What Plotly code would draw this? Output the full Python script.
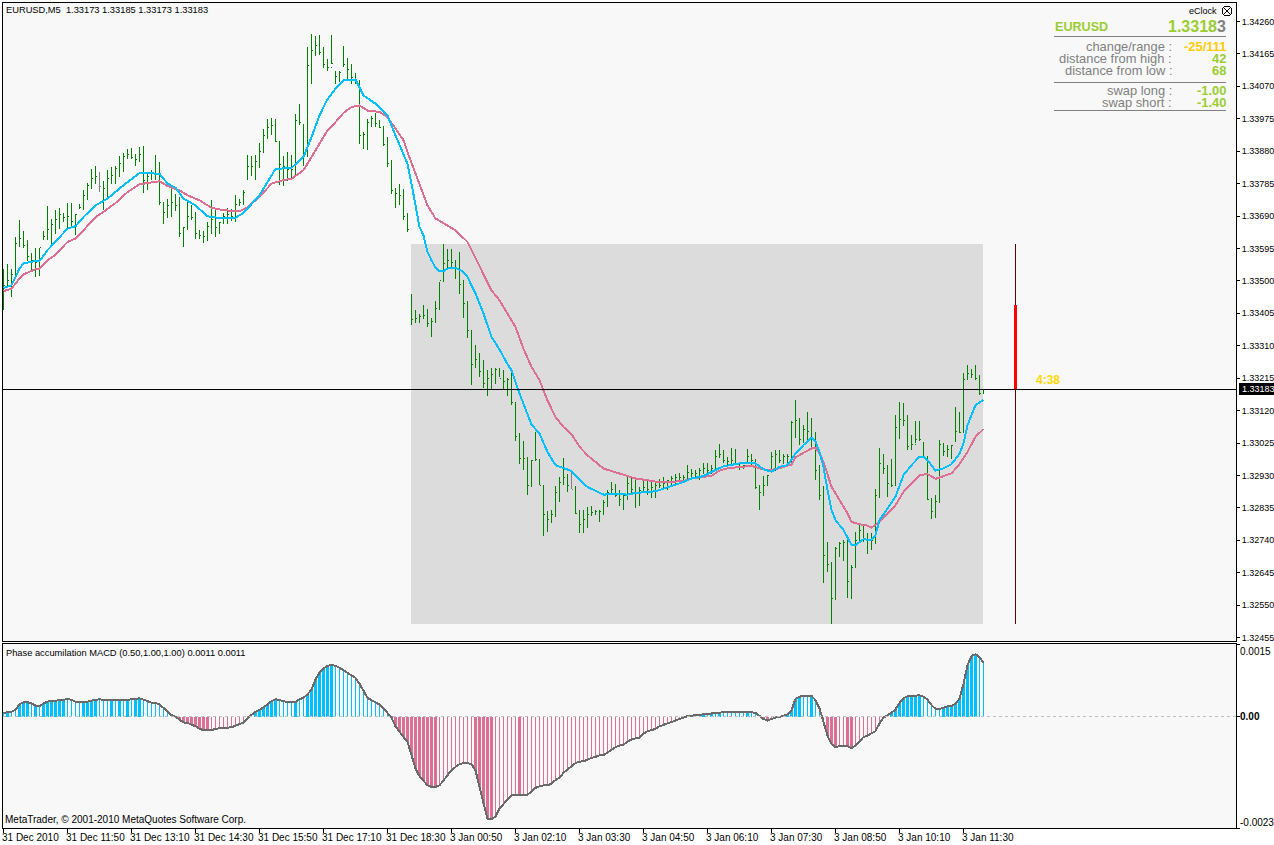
import plotly.graph_objects as go

W, H = 1274, 845
BASE = 1.32

# price values, in 0.00001 above BASE
highs = [1536,1548,1534,1629,1677,1645,1619,1583,1597,1597,1646,1718,1680,1707,1714,1700,1729,1729,1697,1724,
1767,1788,1827,1836,1818,1792,1824,1834,1836,1865,1876,1887,1889,1871,1892,1894,1814,1824,1870,1848,
1731,1739,1770,1755,1746,1658,1731,1723,1702,1648,1646,1673,1738,1707,1673,1699,1714,1712,1751,1741,
1765,1868,1866,1868,1905,1946,1975,1978,1973,1910,1865,1877,1870,1988,2019,1960,2185,2224,2217,2219,
2185,2151,2219,2114,2115,2187,2153,2136,2110,2087,1936,1973,1983,1992,1970,1953,1921,1853,1773,1785,
1770,1699,1463,1414,1402,1428,1419,1392,1441,1497,1607,1594,1592,1562,1586,1502,1440,1355,1311,1289,
1269,1238,1245,1245,1246,1238,1214,1236,1145,1053,1031,984,975,1056,977,903,825,828,898,926,
982,934,940,898,828,830,838,840,830,828,857,887,911,906,887,877,931,928,921,896,
914,921,911,914,921,924,916,928,933,937,931,960,950,947,953,965,965,960,1004,1022,
1004,985,1009,1007,965,960,1007,992,978,902,928,931,999,1006,1004,994,992,1090,1151,1097,
1077,1116,1097,1056,960,899,736,677,721,736,741,744,667,765,785,789,760,760,889,1009,
992,960,978,1107,1144,1141,1107,1048,1090,1090,1026,985,863,872,1033,1024,1019,1019,1131,1116,
1229,1253,1243,1253,1224,1183]
lows = [1416,1482,1453,1511,1599,1597,1558,1531,1510,1513,1619,1619,1607,1638,1653,1673,1648,1658,1633,1712,
1709,1736,1770,1785,1760,1707,1746,1785,1785,1804,1819,1858,1858,1836,1848,1757,1765,1795,1796,1723,
1666,1685,1687,1705,1629,1599,1650,1677,1624,1622,1611,1617,1638,1629,1638,1666,1668,1674,1673,1718,
1721,1796,1807,1796,1832,1876,1917,1926,1907,1780,1778,1793,1795,1809,1956,1836,1863,2078,2158,2161,
2123,2115,2136,2078,2082,2126,2092,2076,2078,1902,1887,1884,1951,1951,1949,1894,1834,1755,1714,1723,
1677,1643,1370,1377,1377,1389,1365,1336,1377,1414,1497,1539,1539,1506,1461,1392,1333,1194,1246,1219,
1187,1163,1180,1199,1219,1180,1163,1136,1031,963,947,872,896,975,901,753,765,791,809,853,
901,882,889,816,760,762,776,811,814,794,814,838,872,867,840,830,857,877,836,840,
882,872,864,865,892,892,887,901,906,914,911,921,921,921,918,934,934,934,948,980,
965,951,960,962,946,948,965,957,889,829,870,899,944,944,965,963,960,965,1041,1019,
1024,1033,1009,916,858,616,648,495,565,692,680,570,568,658,739,736,700,711,729,863,
934,868,895,902,1036,1074,1006,1006,1024,1032,985,858,802,804,850,987,983,977,1029,1053,
1053,1211,1214,1209,1167,1168]
closes = [1487,1500,1520,1610,1625,1605,1570,1560,1555,1597,1630,1650,1665,1680,1695,1685,1690,1675,1695,1715,
1750,1780,1800,1805,1775,1770,1800,1810,1830,1845,1865,1870,1862,1855,1870,1795,1805,1815,1815,1730,
1700,1720,1730,1720,1640,1655,1690,1685,1640,1632,1630,1660,1680,1655,1670,1690,1695,1690,1725,1730,
1760,1835,1835,1850,1880,1925,1950,1955,1908,1840,1835,1825,1825,1970,1965,1870,2130,2175,2190,2170,
2135,2125,2136,2100,2110,2135,2120,2095,2083,1925,1930,1965,1975,1960,1950,1900,1845,1765,1755,1750,
1690,1650,1386,1390,1395,1400,1375,1380,1420,1500,1550,1560,1555,1535,1490,1435,1355,1255,1270,1235,
1200,1215,1225,1240,1215,1205,1210,1145,1045,980,980,900,975,976,902,815,800,815,880,910,
925,900,890,818,785,800,815,820,825,825,850,880,890,870,860,870,905,890,880,885,
895,890,895,900,900,905,915,920,925,925,925,940,935,935,945,950,945,950,985,990,
975,970,975,963,955,960,985,975,895,880,900,930,985,990,975,985,985,1085,1090,1035,
1065,1060,1040,945,870,695,670,570,715,730,735,620,660,740,770,745,740,740,870,965,
950,905,900,1070,1095,1090,1015,1020,1035,1035,985,860,825,855,1020,1000,1005,1019,1060,1055,
1212,1230,1225,1215,1170,1183]
opens = [1490,1487,1500,1520,1610,1625,1605,1570,1560,1555,1625,1630,1650,1665,1680,1695,1685,1690,1675,1715,
1715,1750,1780,1800,1805,1775,1770,1800,1810,1830,1845,1865,1870,1862,1855,1870,1795,1805,1815,1815,
1730,1700,1720,1730,1720,1640,1655,1690,1685,1640,1632,1630,1660,1680,1655,1670,1690,1695,1690,1725,
1730,1800,1835,1835,1850,1880,1925,1950,1955,1908,1840,1835,1825,1825,1970,1940,1870,2130,2175,2190,
2170,2135,2125,2110,2100,2160,2135,2120,2095,2083,1925,1930,1965,1975,1960,1950,1900,1845,1765,1755,
1750,1690,1431,1386,1390,1395,1400,1375,1380,1420,1500,1550,1560,1555,1535,1490,1435,1355,1255,1270,
1235,1200,1215,1225,1240,1215,1205,1210,1145,1045,980,980,900,975,976,902,815,800,815,880,
910,925,900,890,818,785,800,815,820,825,825,850,880,890,870,860,870,905,890,880,
885,895,890,895,900,900,905,915,920,925,925,925,940,935,935,945,950,945,950,985,
990,975,970,975,963,955,965,985,975,895,880,900,944,985,990,975,985,985,1085,1090,
1035,1065,1060,1040,945,870,695,670,570,715,730,735,620,660,740,770,745,740,740,870,
965,950,905,900,1070,1095,1090,1015,1020,1035,1026,985,860,825,855,1020,1000,1005,1035,1060,
1055,1212,1230,1225,1215,1170]
doji_bars = [24, 142]

# moving averages, read at these bars
blue_bars = [0,2,4,5,8,9,11,16,18,20,23,26,30,34,39,41,43,45,48,51,54,58,60,64,68,72,75,77,79,81,83,85,88,90,93,96,98,101,102,103,104,
105,106,107,108,109,110,111,113,115,116,118,120,122,124,126,127,129,131,132,134,136,138,140,142,144,146,148,150,153,156,158,162,164,167,170,172,174,
175,178,180,184,188,190,192,194,196,198,200,202,203,204,205,206,207,208,210,212,213,215,217,218,219,221,223,225,227,229,230,231,233,235,237,239,240,241,243,245]
blue_vals = [1479,1487,1536,1551,1558,1558,1590,1653,1660,1687,1721,1741,1780,1816,1814,1785,1773,1741,1721,1689,1684,1685,1699,1751,1828,1831,1863,1921,1985,2032,2063,2087,2090,2043,2019,1985,1926,1843,1785,1716,1658,
1633,1585,1560,1539,1528,1529,1536,1539,1526,1511,1463,1404,1336,1299,1256,1238,1170,1111,1079,1053,999,960,951,943,918,896,885,874,875,874,879,882,887,898,911,921,926,
928,946,957,965,965,948,941,955,960,994,1019,1040,1029,999,955,887,829,799,770,726,726,743,741,755,799,833,868,931,960,985,985,975,944,951,963,994,1024,1077,1136,1151]
pink_bars = [0,2,4,5,8,9,11,13,16,18,20,23,25,28,31,34,38,39,41,44,46,49,52,55,59,61,64,67,70,72,75,77,79,81,83,85,87,89,91,94,96,98,100,101,103,104,106,108,111,113,
116,118,120,122,124,126,128,130,132,134,136,138,140,142,144,146,148,150,152,155,158,161,164,167,170,172,174,
175,177,179,181,184,187,189,191,193,195,197,198,200,202,203,204,205,206,207,209,211,212,214,216,217,219,221,223,225,227,229,231,233,235,237,239,241,243,245]
pink_vals = [1470,1477,1507,1519,1534,1536,1560,1577,1614,1624,1648,1687,1702,1728,1760,1783,1790,1792,1778,1765,1751,1736,1714,1707,1704,1716,1746,1785,1795,1799,1824,1863,1902,1941,1965,1992,2009,2014,1999,1995,1980,1946,1912,1877,1814,1785,1721,1683,1663,1648,
1614,1565,1521,1472,1443,1404,1365,1301,1248,1209,1150,1101,1072,1051,1014,989,970,950,943,931,921,916,910,911,914,921,923,
926,929,944,951,955,958,951,946,948,955,962,983,997,1009,1011,994,970,936,897,858,819,794,787,783,777,794,819,843,882,907,931,934,920,928,936,963,999,1043,1066]

# indicator values, in 0.00001
macd_vals = [8,9,10,14,25,30,30,27,23,21,27,31,32,34,34,36,36,35,31,30,
30,31,33,34,36,34,34,34,34,34,34,34,36,36,38,35,32,29,28,25,
18,10,3,0,-6,-12,-13,-16,-20,-25,-28,-28,-28,-25,-24,-24,-23,-22,-19,-16,
-12,-3,3,10,14,19,25,32,36,34,32,30,30,30,36,39,46,56,77,91,
99,105,107,105,101,96,91,86,80,68,53,39,34,30,25,17,8,-2,-20,-32,
-42,-52,-80,-107,-123,-133,-142,-145,-145,-142,-131,-121,-111,-104,-98,-96,-96,-98,-111,-145,
-180,-211,-212,-206,-190,-180,-171,-162,-162,-162,-162,-161,-155,-147,-144,-142,-142,-138,-131,-126,
-116,-109,-103,-96,-93,-92,-89,-85,-83,-80,-80,-74,-68,-63,-60,-58,-52,-47,-45,-44,
-35,-30,-28,-25,-20,-17,-15,-12,-9,-6,-3,1,2,3,3,5,6,7,7,8,
10,10,10,10,9,9,9,9,8,2,-5,-8,-5,-2,-1,2,5,13,37,41,
43,43,43,34,17,-11,-39,-57,-63,-61,-60,-61,-65,-60,-50,-42,-39,-35,-30,-14,
-2,3,8,15,28,38,42,43,43,44,41,35,24,16,16,18,21,21,27,37,
68,106,125,129,123,111]
thick_bars = [1,4,5,6,8,10,11,12,13,14,15,20,21,22,23,27,29,31,33,34,44,45,46,47,48,49,50,51,
63,64,65,66,67,68,73,76,77,78,79,80,81,82,97,98,99,100,101,102,103,104,105,106,107,108,118,119,120,121,122,129,
175,177,179,186,190,191,196,197,198,199,202,206,207,208,211,212,222,223,224,225,226,227,228,229,
235,236,237,238,239,240,241,242,243]

price_ticks = [2260,2165,2070,1975,1880,1785,1690,1595,1500,1405,1310,1215,1120,1025,930,835,740,645,550,455]
price_tick_labels = ["1.34260","1.34165","1.34070","1.33975","1.33880","1.33785","1.33690","1.33595","1.33500","1.33405",
"1.33310","1.33215","1.33120","1.33025","1.32930","1.32835","1.32740","1.32645","1.32550","1.32455"]
time_ticks = [0,16,32,48,64,80,96,112,128,144,160,176,192,208,224,240]
time_labels = ["31 Dec 2010","31 Dec 11:50","31 Dec 13:10","31 Dec 14:30","31 Dec 15:50","31 Dec 17:10","31 Dec 18:30",
"3 Jan 00:50","3 Jan 02:10","3 Jan 03:30","3 Jan 04:50","3 Jan 06:10","3 Jan 07:30","3 Jan 08:50","3 Jan 10:10","3 Jan 11:30"]

bid = 1183
day_high = 1607
day_low = 495
day_open_mark = 1428
clock_bar = 253
BLUE, PINK, BAR = "#00BFFF", "#DB7093", "#008000"
TXT = "Liberation Sans"
X_RANGE = [-0.125, 308.125]


def pr(v):
    return [BASE + a / 1e5 for a in v]


def one(v):
    return BASE + v / 1e5


bars = list(range(len(highs)))
normal = [i for i in bars if i not in doji_bars]
fig = go.Figure()


def ohlc(idx, color):
    # open tick left of the stem, close tick right of it
    xs, ys = [], []
    for i in idx:
        xs += [i, i, None, i - 0.25, i, None, i, i + 0.25, None]
        ys += [one(lows[i]), one(highs[i]), None, one(opens[i]), one(opens[i]), None, one(closes[i]), one(closes[i]), None]
    fig.add_trace(go.Scatter(x=xs, y=ys, mode="lines", line=dict(color=color, width=1, simplify=False),
                             showlegend=False, hoverinfo="skip"))


ohlc(normal, BAR)
ohlc(doji_bars, "#808080")
fig.add_trace(go.Scatter(x=pink_bars, y=pr(pink_vals), mode="lines", line=dict(color=PINK, width=2), showlegend=False))
fig.add_trace(go.Scatter(x=blue_bars, y=pr(blue_vals), mode="lines", line=dict(color=BLUE, width=2), showlegend=False))

macd = [v / 1e5 for v in macd_vals]
fig.add_trace(go.Bar(x=bars, y=macd, xaxis="x2", yaxis="y2", showlegend=False,
                     width=[0.75 if i in thick_bars else 0.25 for i in bars],
                     marker=dict(color=[BLUE if v >= 0 else PINK for v in macd], line=dict(width=0))))
fig.add_trace(go.Scatter(x=bars, y=macd, xaxis="x2", yaxis="y2", mode="lines", showlegend=False,
                         line=dict(color="#696969", width=2)))

shapes = [
    dict(type="rect", xref="x", yref="y", x0=102 - 0.125, x1=245 - 0.125, y0=one(day_low), y1=one(day_high),
         fillcolor="#DCDCDC", line=dict(width=0), layer="below"),
    dict(type="line", xref="paper", yref="y", x0=3 / W, x1=1236 / W, y0=one(bid), y1=one(bid),
         line=dict(color="#000000", width=1), layer="above"),
    dict(type="line", xref="x", yref="y", x0=clock_bar, x1=clock_bar, y0=one(day_low), y1=one(day_high),
         line=dict(color="#600000", width=1), layer="above"),
    dict(type="line", xref="x", yref="y", x0=clock_bar, x1=clock_bar, y0=one(bid), y1=one(day_open_mark),
         line=dict(color="#FF0000", width=3), layer="above"),
    dict(type="line", xref="x2", yref="y2", x0=X_RANGE[0], x1=X_RANGE[1], y0=0, y1=0,
         line=dict(color="#C0C0C0", width=1, dash="3px,3px"), layer="above"),
    dict(type="rect", xref="paper", yref="paper", x0=1239 / W, x1=1 , y0=1 - 395 / H, y1=1 - 383 / H,
         fillcolor="#000000", line=dict(width=0), layer="above"),
]
for yy in (36, 82, 110):
    shapes.append(dict(type="line", xref="paper", yref="paper", x0=1054 / W, x1=1226 / W, y0=1 - yy / H, y1=1 - yy / H,
                       line=dict(color="#808080", width=1)))
# clock glyph
shapes.append(dict(type="circle", xref="paper", yref="paper", x0=1222 / W, x1=1232 / W, y0=1 - 16 / H, y1=1 - 6 / H,
                   line=dict(color="#000000", width=1)))
shapes.append(dict(type="line", xref="paper", yref="paper", x0=1224 / W, x1=1230 / W, y0=1 - 8 / H, y1=1 - 14 / H,
                   line=dict(color="#000000", width=1)))
shapes.append(dict(type="line", xref="paper", yref="paper", x0=1224 / W, x1=1230 / W, y0=1 - 14 / H, y1=1 - 8 / H,
                   line=dict(color="#000000", width=1)))

ann = []


def text(x, y, s, anchor="left", color="#000000", size=10, bold=False, **kw):
    ann.append(dict(x=x / W, y=1 - y / H, xref="paper", yref="paper", text=f"<b>{s}</b>" if bold else s,
                    xanchor=anchor, yanchor="middle", showarrow=False, borderpad=0, borderwidth=0,
                    font=dict(family=TXT, size=size, color=color), **kw))


text(6, 10, "EURUSD,M5&nbsp;&nbsp;1.33173 1.33185 1.33173 1.33183", size=9.3)
text(6, 653, "Phase accumilation MACD (0.50,1.00,1.00) 0.0011 0.0011", size=9.3)
text(5, 819, "MetaTrader, © 2001-2010 MetaQuotes Software Corp.")
text(1217, 11, "eClock", anchor="right", size=9)
text(1055, 27, "EURUSD", color="#9ACD32", size=12.6, bold=True)
text(1226, 27, '<span style="color:#9ACD32">1.3318</span><span style="color:#808080">3</span>', anchor="right", size=16, bold=True)
gray_rows = [(46.5, "change/range :", "-25/111", "#FFCC00"), (58.5, "distance from high :", "42", "#9ACD32"),
             (70.5, "distance from low :", "68", "#9ACD32"), (90.5, "swap long :", "-1.00", "#9ACD32"),
             (102.5, "swap short :", "-1.40", "#9ACD32")]
for yy, lab, val, col in gray_rows:
    text(1172, yy, lab, anchor="right", color="#808080", size=12.9)
    text(1226, yy, val, anchor="right", color=col, size=12.9, bold=True)
text(1036, 380, "4:38", color="#FFD700", size=12, bold=True)
text(1242, 388.5, "1.33183", color="#FFFFFF", size=9)
text(1240, 651, "0.0015", size=10)
text(1240, 716, "0.00", size=10, bold=True)
text(1240, 822, "-0.0023", size=10)
for b, lab in zip(time_ticks, time_labels):
    text(2 + 4 * b, 837.5, lab, size=10)

fig.update_layout(
    width=W, height=H, autosize=False, margin=dict(l=0, r=0, t=0, b=0, autoexpand=False), paper_bgcolor="#FFFFFF",
    plot_bgcolor="#F8F8F8", bargap=0, barmode="overlay", showlegend=False, shapes=shapes, annotations=ann,
    font=dict(family=TXT, size=10, color="#000000"),
    xaxis=dict(domain=[3 / W, 1236 / W], range=X_RANGE, showgrid=False,
               zeroline=False, showticklabels=False, ticks="", showline=True, mirror=True, linecolor="#000000",
               linewidth=1, anchor="y"),
    yaxis=dict(domain=[1 - 641 / H, 1 - 3 / H], range=[one(445), one(2314)], side="right", showgrid=False,
               zeroline=False, tickmode="array", tickvals=pr(price_ticks), ticktext=price_tick_labels, ticks="outside",
               ticklen=3, tickcolor="#000000", tickwidth=1, showline=True, mirror=True, linecolor="#000000",
               linewidth=1, anchor="x", tickfont=dict(family=TXT, size=9)),
    xaxis2=dict(domain=[3 / W, 1236 / W], range=X_RANGE, showgrid=False, zeroline=False, tickmode="array",
                tickvals=time_ticks, ticktext=[""] * len(time_ticks), ticks="outside", ticklen=4, tickcolor="#000000",
                showline=True, mirror=True, linecolor="#000000", linewidth=1, anchor="y2"),
    yaxis2=dict(domain=[1 - 828 / H, 1 - 644 / H], range=[-0.0023, 0.0015], side="right", showgrid=False,
                zeroline=False, tickmode="array", tickvals=[0.0015, 0, -0.0023], ticktext=["", "", ""], ticks="outside",
                ticklen=3, tickcolor="#000000", showline=True, mirror=True, linecolor="#000000", linewidth=1,
                anchor="x2"),
)

crisp = """
document.body.style.margin='0';
document.body.style.overflow='hidden';
document.querySelectorAll('.scatterlayer .js-line, .barlayer path, .shapelayer path').forEach(function(p){
  p.style.shapeRendering='crispEdges';
});
"""
fig.write_html("out.html", post_script=crisp, config=dict(displayModeBar=False))
